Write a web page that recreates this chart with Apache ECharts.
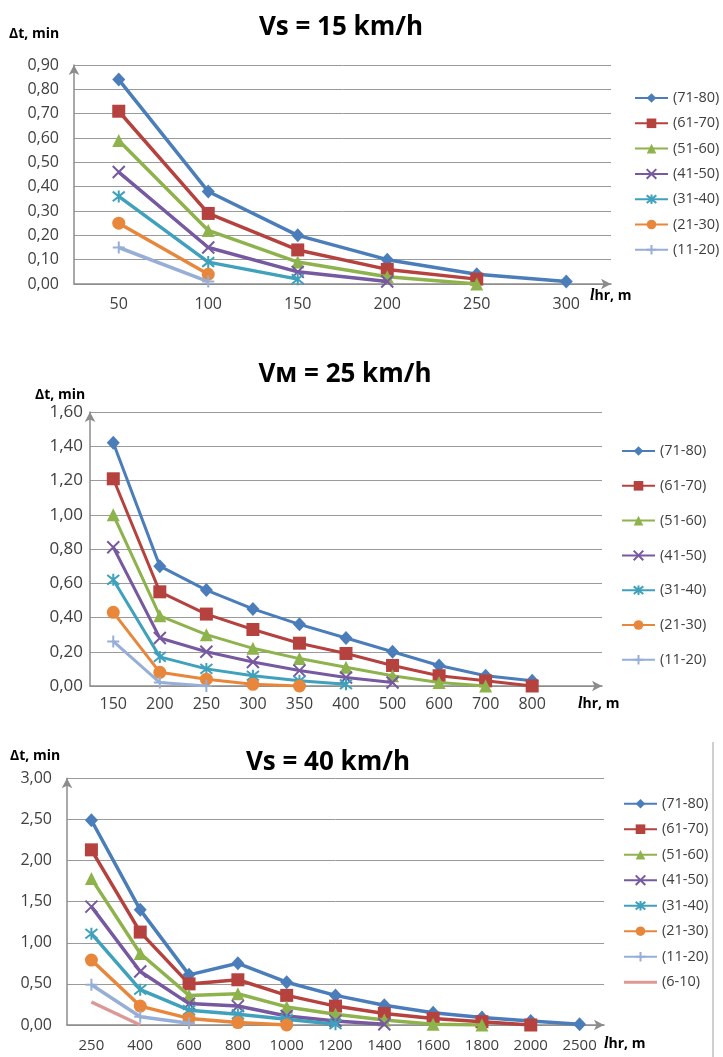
<!DOCTYPE html>
<html><head><meta charset="utf-8">
<script src="https://cdn.jsdelivr.net/npm/echarts@6/dist/echarts.min.js"></script>
<style>
html,body{margin:0;padding:0;background:#fff;width:723px;height:1057px;overflow:hidden}
.c{position:absolute;left:0;width:723px}
</style></head><body>
<div id="c1" class="c" style="top:0;height:335px"></div>
<div id="c2" class="c" style="top:335px;height:400px"></div>
<div id="c3" class="c" style="top:735px;height:322px"></div>
<script>
// ---------- DATA ----------
const seriesNames = ['(71-80)','(61-70)','(51-60)','(41-50)','(31-40)','(21-30)','(11-20)','(6-10)'];

// Chart 1: Vs = 15 km/h
const cat15 = ['50','100','150','200','250','300'];
const v15_71_80 = [0.84,0.38,0.20,0.10,0.04,0.01];
const v15_61_70 = [0.71,0.29,0.14,0.06,0.02];
const v15_51_60 = [0.59,0.22,0.09,0.03,0.00];
const v15_41_50 = [0.46,0.15,0.05,0.01];
const v15_31_40 = [0.36,0.09,0.02];
const v15_21_30 = [0.25,0.04];
const v15_11_20 = [0.15,0.01];
const yTicks15 = {max:0.9, interval:0.1};

// Chart 2: Vм = 25 km/h (last category is the empty slot of the original axis)
const cat25 = ['150','200','250','300','350','400','500','600','700','800',''];
const v25_71_80 = [1.42,0.70,0.56,0.45,0.36,0.28,0.20,0.12,0.06,0.03];
const v25_61_70 = [1.21,0.55,0.42,0.33,0.25,0.19,0.12,0.06,0.03,0.00];
const v25_51_60 = [1.00,0.41,0.30,0.22,0.16,0.11,0.06,0.02,0.00];
const v25_41_50 = [0.81,0.28,0.20,0.14,0.09,0.05,0.02];
const v25_31_40 = [0.62,0.17,0.10,0.06,0.03,0.01];
const v25_21_30 = [0.43,0.08,0.04,0.01,0.00];
const v25_11_20 = [0.26,0.02,0.00];
const yTicks25 = {max:1.6, interval:0.2};

// Chart 3: Vs = 40 km/h
const cat40 = ['250','400','600','800','1000','1200','1400','1600','1800','2000','2500'];
const v40_71_80 = [2.49,1.40,0.61,0.75,0.52,0.36,0.24,0.15,0.09,0.05,0.01];
const v40_61_70 = [2.13,1.13,0.50,0.55,0.36,0.23,0.14,0.08,0.04,0.00];
const v40_51_60 = [1.78,0.87,0.36,0.38,0.22,0.13,0.06,0.01,0.00];
const v40_41_50 = [1.44,0.65,0.26,0.23,0.11,0.05,0.01];
const v40_31_40 = [1.11,0.43,0.18,0.13,0.07,0.01];
const v40_21_30 = [0.79,0.23,0.08,0.03,0.00];
const v40_11_20 = [0.49,0.10,0.02];
const v40_6_10  = [0.28,0.00];
const yTicks40 = {max:3, interval:0.5};

// ---------- STYLES ----------
const FONT = 'Open Sans';
const STYLES = [
  {color:'#4A7DBA', symbol:'diamond', size:[13,14], stroke:false},
  {color:'#B5423F', symbol:'rect', size:13, stroke:false},
  {color:'#8EB34C', symbol:'triangle', size:13, stroke:false},
  {color:'#7659A0', symbol:'path://M0 0 L10 10 M10 0 L0 10', size:12, stroke:true},
  {color:'#3FA1BB', symbol:'path://M5 0 L5 10 M1 1 L9 9 M9 1 L1 9', size:12, stroke:true},
  {color:'#E8873C', symbol:'circle', size:13, stroke:false},
  {color:'#97AED6', symbol:'path://M5 0 L5 10 M0 5 L10 5', size:12, stroke:true},
  {color:'#DB9896', symbol:'none', size:0, stroke:false,
   legendIcon:'path://M0 4.5 L33 4.5 L33 7.5 L0 7.5 Z'}
];
const fmt = v => v.toFixed(2).replace('.', ',');

function build(id, cfg) {
  const chart = echarts.init(document.getElementById(id), null, {renderer:'canvas'});
  const series = cfg.values.map((vals, i) => {
    const st = STYLES[i];
    return {
      type:'line', name: seriesNames[i], data: vals,
      symbol: st.symbol, symbolSize: st.size, showSymbol: st.symbol !== 'none',
      lineStyle:{color: st.color, width: cfg.lineWidth},
      itemStyle:{color: st.color, borderColor: st.color, borderWidth: st.stroke ? 2 : 0},
      emphasis:{disabled:true}, z: 2 + i, connectNulls:false
    };
  });
  const legendData = cfg.values.map((v, i) => STYLES[i].legendIcon
    ? {name: seriesNames[i], icon: STYLES[i].legendIcon}
    : {name: seriesNames[i]});
  const axisLineStyle = {color:'#8c8c8c', width:1.5};
  const g = [
    {type:'text', x: cfg.titleX, y: cfg.titleY, style:{text: cfg.title, align:'center', verticalAlign:'middle',
      fontFamily: FONT, fontWeight:'bold', fontSize: 26, fill:'#000'}},
    {type:'text', x: cfg.yNameX, y: cfg.yNameY, style:{text:'Δt, min', align:'left', verticalAlign:'middle',
      fontFamily: FONT, fontWeight:'bold', fontSize: 14, fill:'#000'}},
    {type:'text', x: cfg.xNameX, y: cfg.xNameY, style:{text:'{i|l}{b|hr, m}', align:'left', verticalAlign:'middle',
      rich:{
        i:{fontFamily:'Liberation Serif', fontWeight:'bold', fontStyle:'italic', fontSize:16, fill:'#000'},
        b:{fontFamily: FONT, fontWeight:'bold', fontSize:14, fill:'#000'}
      }}}
  ];
  if (cfg.extraGraphic) g.push(...cfg.extraGraphic);
  chart.setOption({
    animation:false,
    backgroundColor:'#fff',
    grid:{left: cfg.grid.left, top: cfg.grid.top, width: cfg.grid.width, height: cfg.grid.height, containLabel:false},
    legend:{
      orient:'vertical', left: cfg.legend.left, top: cfg.legend.top, itemGap: cfg.legend.gap,
      padding:0, itemWidth:33, itemHeight:12, selectedMode:false,
      textStyle:{fontFamily: FONT, fontSize:14.5, color:'#404040', lineHeight:16},
      data: legendData
    },
    xAxis:{
      type:'category', data: cfg.categories, boundaryGap:true,
      axisTick:{show:false},
      axisLine:{show:true, lineStyle: axisLineStyle, symbol:['none','arrow'], symbolSize:[8,10]},
      axisLabel:{color:'#404040', fontFamily: FONT, fontSize: cfg.xFont, margin: cfg.xMargin, interval:0},
      splitLine:{show:false}
    },
    yAxis:{
      type:'value', min:0, max: cfg.yTicks.max, interval: cfg.yTicks.interval,
      axisTick:{show:false},
      axisLine:{show:true, lineStyle: axisLineStyle, symbol:['none','arrow'], symbolSize:[8,10]},
      axisLabel:{color:'#404040', fontFamily: FONT, fontSize: cfg.yFont, margin: cfg.yMargin, formatter: fmt},
      splitLine:{show:true, lineStyle:{color:'#9a9a9a', width:1}}
    },
    graphic: g,
    series
  });
}

build('c1', {
  title:'Vs = 15 km/h', titleX:341, titleY:28,
  yNameX:9, yNameY:34, xNameX:590, xNameY:296,
  categories: cat15,
  values:[v15_71_80,v15_61_70,v15_51_60,v15_41_50,v15_31_40,v15_21_30,v15_11_20],
  yTicks: yTicks15, lineWidth:3.5,
  grid:{left:74, top:65, width:537, height:219},
  legend:{left:634, top:90, gap:9.3},
  xFont:16, xMargin:12, yFont:16, yMargin:15
});

build('c2', {
  title:'Vм = 25 km/h', titleX:345, titleY:40,
  yNameX:35, yNameY:60, xNameX:578, xNameY:369,
  categories: cat25,
  values:[v25_71_80,v25_61_70,v25_51_60,v25_41_50,v25_31_40,v25_21_30,v25_11_20],
  yTicks: yTicks25, lineWidth:3,
  grid:{left:90, top:77, width:512, height:274},
  legend:{left:621, top:108, gap:18.8},
  xFont:16, xMargin:10, yFont:17, yMargin:7
});

build('c3', {
  title:'Vs = 40 km/h', titleX:328, titleY:28,
  yNameX:10, yNameY:21, xNameX:604, xNameY:309,
  categories: cat40,
  values:[v40_71_80,v40_61_70,v40_51_60,v40_41_50,v40_31_40,v40_21_30,v40_11_20,v40_6_10],
  yTicks: yTicks40, lineWidth:3.5,
  grid:{left:67, top:43.3, width:537, height:246.7},
  legend:{left:623, top:60.7, gap:9.5},
  xFont:15, xMargin:13, yFont:16, yMargin:15,
  extraGraphic:[{type:'line', shape:{x1:713, y1:7, x2:713, y2:322}, style:{stroke:'#a0a0a0', lineWidth:1}}]
});
</script></body></html>
